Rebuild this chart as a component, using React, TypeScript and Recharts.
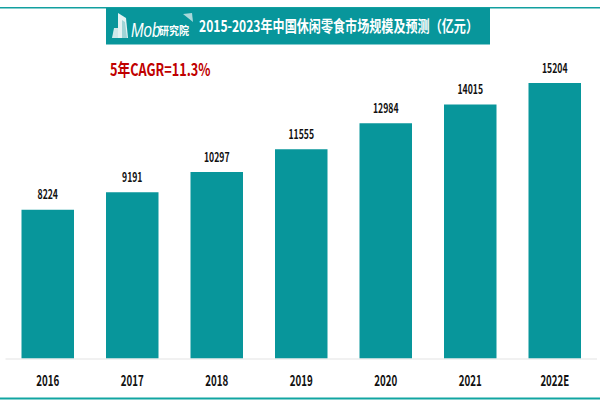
import { Bar, BarChart, LabelList, XAxis, YAxis } from "recharts";

const years = ["2016", "2017", "2018", "2019", "2020", "2021", "2022E"];
const marketSize = [8224, 9191, 10297, 11555, 12984, 14015, 15204];

const chartData = years.map((year, i) => ({ year, value: marketSize[i] }));

const teal = "#08969b";
const cjkFont = '"Noto Sans CJK SC", sans-serif';

function YearTick({ x, y, payload }: any) {
  return (
    <text
      x={x}
      y={y + 19}
      textAnchor="middle"
      fill="#111"
      fontFamily={cjkFont}
      fontWeight={700}
      fontSize={15}
      textLength={payload.value.length * 5.75}
      lengthAdjust="spacingAndGlyphs"
    >
      {payload.value}
    </text>
  );
}

function ValueLabel({ x, y, width, value }: any) {
  return (
    <text
      x={x + width / 2}
      y={y - 10.5}
      textAnchor="middle"
      fill="#111"
      fontFamily={cjkFont}
      fontWeight={700}
      fontSize={13}
      textLength={String(value).length * 5.1}
      lengthAdjust="spacingAndGlyphs"
    >
      {value}
    </text>
  );
}

function Overlay() {
  return (
    <svg
      width={600}
      height={400}
      style={{ position: "absolute", left: 0, top: 0, pointerEvents: "none" }}
    >
      <rect x={0} y={7} width={600} height={1.5} fill="#12a0a0" />
      <rect x={0} y={397.5} width={600} height={2} fill="#12a5a2" />
      <rect x={106} y={8} width={384} height={36.5} fill={teal} />

      {/* logo */}
      <polygon points="112,38 114,28 118,28 118,38" fill="#cfe9ea" />
      <polygon points="118,38 118,13 126,18 128,38" fill="#e4f3f3" />
      <polygon points="122,38 122,20 125,22 127,38" fill="#9fd5d7" />
      <polygon points="183,14 192,13 193,22" fill="#a9d8da" />
      <g transform="translate(131,36.5) scale(0.72,1)">
        <text fill="#fff" fontFamily="Liberation Sans" fontStyle="italic" fontSize={21}>
          Mob
        </text>
      </g>
      <text x={159} y={35} fill="#fff" fontFamily={cjkFont} fontWeight={700} fontSize={11} textLength={30} lengthAdjust="spacingAndGlyphs">
        研究院
      </text>

      <text x={199} y={32} fill="#fff" fontFamily={cjkFont} fontWeight={700} fontSize={16} textLength={279} lengthAdjust="spacingAndGlyphs">
        2015-2023年中国休闲零食市场规模及预测（亿元）
      </text>

      <text x={110} y={76} fill="#c00000" fontFamily={cjkFont} fontWeight={700} fontSize={17} textLength={100.5} lengthAdjust="spacingAndGlyphs">
        5年CAGR=11.3%
      </text>
    </svg>
  );
}

export default function App() {
  return (
    <div style={{ position: "absolute", left: 0, top: 0, width: 600, height: 400, background: "#fff" }}>
      <BarChart
        width={600}
        height={400}
        data={chartData}
        barSize={52.5}
        margin={{ top: 83, right: 3, bottom: 0, left: 5.5 }}
      >
        <XAxis
          dataKey="year"
          axisLine={{ stroke: "#ececec", strokeWidth: 1.5 }}
          tickLine={false}
          height={41}
          interval={0}
          tick={<YearTick />}
        />
        <YAxis hide domain={[0, 15204]} />
        <Bar dataKey="value" fill={teal} isAnimationActive={false}>
          <LabelList dataKey="value" content={<ValueLabel />} />
        </Bar>
      </BarChart>
      <Overlay />
    </div>
  );
}
